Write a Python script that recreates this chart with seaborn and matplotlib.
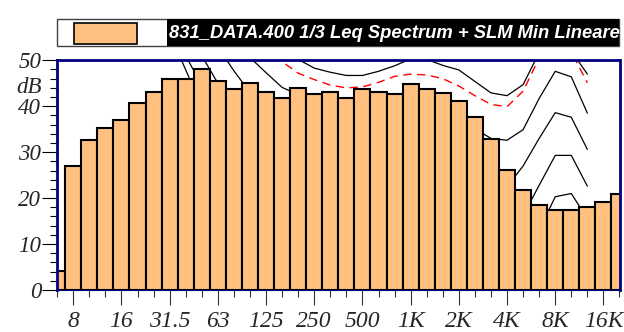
import numpy as np
import pandas as pd
import matplotlib
matplotlib.use("Agg")
import matplotlib.pyplot as plt
from matplotlib.patches import Rectangle
from matplotlib.ticker import MultipleLocator
import seaborn as sns

# 1/3 octave bands, 6.3 Hz .. 20 kHz
bands = ["6.3", "8", "10", "12.5", "16", "20", "25", "31.5", "40", "50",
         "63", "80", "100", "125", "160", "200", "250", "315", "400", "500",
         "630", "800", "1K", "1.25K", "1.6K", "2K", "2.5K", "3.15K", "4K", "5K",
         "6.3K", "8K", "10K", "12.5K", "16K", "20K"]

leq = [4.2, 26.9, 32.7, 35.2, 37.0, 40.7, 43.0, 45.9, 45.9, 48.0,
       45.5, 43.7, 45.1, 43.0, 41.9, 44.0, 42.7, 43.0, 41.7, 43.8,
       43.0, 42.6, 44.8, 43.7, 42.9, 41.2, 37.7, 32.8, 26.2, 21.7,
       18.4, 17.4, 17.4, 18.1, 19.1, 20.8]

nan = np.nan
# SLM min curves (black), top to bottom
curve_b = [nan] * 14 + [53, 50.2, 48.3, 47.4, 46.7, 46.7, 47.6, 48.8, 50.3, 50.2,
                        48.9, 47.9, 45.4, 42.9, 42.3, 44.7, 51.7, 56, 52, 47.0, nan, nan]
curve_c = [nan] * 11 + [57, 50.6, 47.3, 44.1, 42.5, 40.5, 38.8, 37.7, 37.5, 38.2,
                        39.2, 40.2, 40.3, 39.2, 37.6, 35.1, 33.0, 32.6, 34.9, 41.7,
                        47.6, 46.4, 38.5, nan, nan]
curve_d = [nan] * 9 + [58, 52.9, 47.7, 43, 40, 37.5, 35.5, 33, 31, 29.5,
                       29, 29.5, 30.5, 31, 31, 30, 28, 25.5, 23.3, 22.5,
                       27.0, 33.0, 38.6, 37.6, 30.6, nan, nan]
curve_e = [nan] * 8 + [57, 51.0, 45.0, 40, 36, 33, 30, 27.5, 25, 23,
                       21.5, 21, 21, 22, 22.5, 22.5, 21.5, 19.5, 17, 15,
                       14, 16.2, 22.8, 29.3, 29.3, 22.6, nan, nan]
curve_f = [nan] * 7 + [57.5, 51.0, 44.5, 38.5, 33.5, 29.5, 26, 23, 20.5, 18,
                       16, 14.5, 14, 14, 14.5, 15, 15, 14, 12, 9.5,
                       7.5, 6.5, 8, 13, 20.3, 21.0, 15.5, nan, nan]
curve_g = [nan] * 6 + [64, 56, 47.9, 40, 33, 27.5, 23, 19.5, 16.5, 14,
                       11.5, 9.5, 8, 7.5, 7.5, 8, 8.5, 8.5, 7.5, 5.5,
                       3, 1, 0.5, 2, 6, 12, 12.5, 7, nan, nan]
# red dashed curve
curve_red = [nan] * 13 + [53.5, 49.7, 47.2, 45.8, 44.6, 44.0, 44.2, 45.2, 46.5, 47.0,
                          46.8, 46.0, 44.4, 42.3, 40.4, 39.9, 43.3, 50.5, 55, 51.8,
                          45.1, nan, nan]

tick_idx = [1, 4, 7, 10, 13, 16, 19, 22, 25, 28, 31, 34]
tick_labels = ["8", "16", "31.5", "63", "125", "250", "500", "1K", "2K", "4K", "8K", "16K"]

legend_text = "831_DATA.400 1/3 Leq Spectrum + SLM Min Lineare"

sns.set_theme(style="ticks")
plt.rcParams["font.family"] = ["Liberation Serif", "DejaVu Serif"]

W, H = 624, 332
fig = plt.figure(figsize=(W / 100, H / 100), dpi=100)
ax = fig.add_axes([57.2 / W, 42 / H, 562.3 / W, 229.7 / H])

pos = np.arange(len(bands))

for vals in [curve_b, curve_c, curve_d, curve_e, curve_f, curve_g]:
    sns.lineplot(x=pos, y=vals, color="black", lw=0.9, ax=ax, zorder=1,
                 estimator=None, sort=False)
sns.lineplot(x=pos, y=curve_red, color="#FF0000", lw=1.0, linestyle=(0, (6, 4)),
             ax=ax, zorder=1, estimator=None, sort=False)

df = pd.DataFrame({"pos": pos, "leq": leq})
sns.barplot(data=df, x="pos", y="leq", native_scale=True, width=1,
            color="#FFC080", saturation=1, edgecolor="black", linewidth=1.5,
            errorbar=None, zorder=3, ax=ax)

ax.set_xlim(0, len(bands) - 1)
ax.set_ylim(0, 50)
ax.set_xlabel("")
ax.set_ylabel("")

ax.set_xticks(tick_idx, tick_labels)
ax.set_xticks(pos, minor=True)
ax.set_yticks([0, 10, 20, 30, 40, 50])
ax.yaxis.set_minor_locator(MultipleLocator(2))

ax.tick_params(axis="x", which="major", length=11, width=0.8, color="#333333",
               pad=4, labelsize=17)
ax.tick_params(axis="x", which="minor", length=5, width=0.8, color="#333333")
ax.tick_params(axis="y", which="major", length=11, width=0.8, color="black",
               pad=0.5, labelsize=16.5)
ax.tick_params(axis="y", which="minor", length=5, width=0.8, color="black")
for lbl in ax.get_xticklabels() + ax.get_yticklabels():
    lbl.set_fontstyle("italic")

ax.text(-0.0275, 44, "dB", transform=ax.get_yaxis_transform(), ha="right",
        va="center", fontsize=16.5, fontstyle="italic")

for side in ["left", "top", "right"]:
    ax.spines[side].set_color("#000080")
    ax.spines[side].set_linewidth(2)
    ax.spines[side].set_zorder(5)
ax.spines["bottom"].set_color("#000080")
ax.spines["bottom"].set_linewidth(0.8)
ax.spines["bottom"].set_zorder(5)

# legend strip on top
fig.patches.append(Rectangle((57 / W, 1 - 46 / H), 562 / W, 27 / H, transform=fig.transFigure,
                             fc="white", ec="#404040", lw=1))
fig.patches.append(Rectangle((74 / W, 1 - 44 / H), 63 / W, 21 / H, transform=fig.transFigure,
                             fc="#FFC080", ec="black", lw=1.2))
fig.patches.append(Rectangle((167 / W, 1 - 46 / H), 452 / W, 27 / H, transform=fig.transFigure,
                             fc="black", ec="none"))
fig.text(169 / W, 1 - 33 / H, legend_text, color="white", fontsize=13.2,
         fontweight="bold", fontstyle="italic", family=["Liberation Sans", "DejaVu Sans"],
         ha="left", va="center")

fig.savefig("out.png", dpi=100)
